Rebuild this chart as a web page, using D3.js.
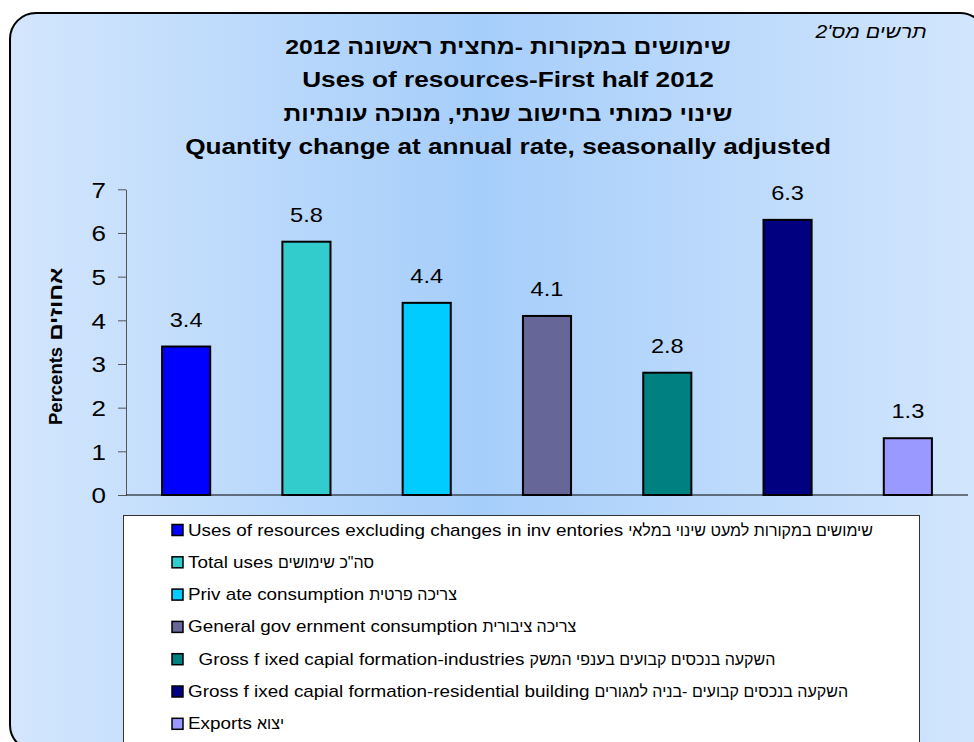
<!DOCTYPE html>
<html>
<head>
<meta charset="utf-8">
<script src="https://cdn.jsdelivr.net/npm/d3@7"></script>
<style>
  body { margin: 0; background: #fff; }
  svg text { font-family: "Liberation Sans", Arial, sans-serif; }
</style>
</head>
<body>
<div id="container-chart"></div>
<script>
// data
const labelsEn = [
  "Uses of resources excluding changes in inv entories",
  "Total uses",
  "Priv ate consumption",
  "General gov ernment consumption",
  "  Gross f ixed capial formation-industries",
  "Gross f ixed capial formation-residential building",
  "Exports"
];
const labelsHe = [
  "שימושים במקורות למעט שינוי במלאי",
  "סה\"כ שימושים",
  "צריכה פרטית",
  "צריכה ציבורית",
  "השקעה בנכסים קבועים בענפי המשק",
  "השקעה בנכסים קבועים -בניה למגורים",
  "יצוא"
];
const values = [3.4, 5.8, 4.4, 4.1, 2.8, 6.3, 1.3];
const barColors = ["#0000FF", "#33CCCC", "#00CCFF", "#666699", "#008080", "#000080", "#9999FF"];
const yTicks = [0, 1, 2, 3, 4, 5, 6, 7];
const titleLines = [
  { text: "שימושים במקורות -מחצית ראשונה 2012", dir: "rtl" },
  { text: "Uses of resources-First half 2012", dir: "ltr" },
  { text: "שינוי כמותי בחישוב שנתי, מנוכה עונתיות", dir: "rtl" },
  { text: "Quantity change at annual rate, seasonally adjusted", dir: "ltr" }
];
const chartNo = "תרשים מס'2";
const yTitleEn = "Percents";
const yTitleHe = "אחוזים";

const W = 974, H = 742;
const stretch = 1.18; // latin text in the picture is drawn a bit wide
const margin = { LEFT: 126, RIGHT: 6, TOP: 189.3, BOTTOM: 247 };

const svg = d3.select("#container-chart")
  .append("svg")
  .attr("width", W)
  .attr("height", H);

// background gradient
const grad = svg.append("defs").append("linearGradient")
  .attr("id", "bg")
  .attr("x1", "0%").attr("x2", "100%")
  .attr("y1", "0%").attr("y2", "0%");
grad.append("stop").attr("offset", "0%").attr("stop-color", "#d3e6fd");
grad.append("stop").attr("offset", "48%").attr("stop-color", "#a6cefa");
grad.append("stop").attr("offset", "100%").attr("stop-color", "#d3e6fd");

svg.append("rect")
  .attr("x", 10).attr("y", 13)
  .attr("width", 976).attr("height", 738)
  .attr("rx", 26).attr("ry", 26)
  .attr("fill", "url(#bg)")
  .attr("stroke", "#000")
  .attr("stroke-width", 2);

// scales
const xScale = d3.scaleBand()
  .domain(labelsEn)
  .range([margin.LEFT, W - margin.RIGHT])
  .paddingInner(0.6)
  .paddingOuter(0.3);

const yScale = d3.scaleLinear()
  .domain([0, 7])
  .range([H - margin.BOTTOM, margin.TOP]);

// titles
svg.selectAll(".title")
  .data(titleLines)
  .enter()
  .append("text")
    .attr("class", "title")
    .attr("transform", (d, i) => d.dir === "rtl"
      ? `translate(508, ${54 + i * 33.4}) scale(1.18, 1)`
      : `translate(508, ${54 + i * 33.4}) scale(1.19, 1)`)
    .attr("text-anchor", "middle")
    .attr("direction", d => d.dir)
    .style("font-size", d => d.dir === "rtl" ? "21px" : "22px")
    .style("font-weight", "bold")
    .text(d => d.text);

svg.append("text")
  .attr("transform", `translate(871, 38) scale(${stretch}, 1)`)
  .attr("text-anchor", "middle")
  .attr("direction", "rtl")
  .style("font-size", "18px")
  .style("font-style", "italic")
  .text(chartNo);

// y axis
const yAxisCall = d3.axisLeft(yScale)
  .tickValues(yTicks)
  .tickSize(8)
  .tickSizeOuter(0)
  .tickFormat(d3.format("d"));

const yAxisGroup = svg.append("g")
  .attr("class", "yAxis")
  .attr("transform", `translate(${margin.LEFT}, 0)`)
  .call(yAxisCall);

yAxisGroup.select(".domain").attr("stroke", "#555");
yAxisGroup.selectAll(".tick line").attr("stroke", "#555");
yAxisGroup.selectAll(".tick text")
  .attr("x", null)
  .attr("dy", "0.35em")
  .attr("transform", `translate(-20, 0) scale(${stretch}, 1)`)
  .attr("fill", "#000")
  .style("font-size", "22px")
  .style("font-family", "'Liberation Sans', Arial, sans-serif");

// y title, latin and hebrew parts set apart
const yTitleG = svg.append("g")
  .attr("transform", "translate(62, 425) rotate(-90)");

const yEn = yTitleG.append("text")
  .attr("x", 0).attr("y", 0)
  .style("font-size", "18.5px")
  .style("font-weight", "bold")
  .text(yTitleEn);

const yEnLen = yEn.node().getComputedTextLength();

yTitleG.append("text")
  .attr("transform", `translate(${yEnLen + 6}, 0) scale(1.3, 1)`)
  .style("font-size", "18.5px")
  .style("font-weight", "bold")
  .text(yTitleHe);

// x axis baseline
svg.append("line")
  .attr("x1", margin.LEFT).attr("x2", W - margin.RIGHT)
  .attr("y1", yScale(0)).attr("y2", yScale(0))
  .attr("stroke", "#000")
  .attr("stroke-width", 1);

// bars
svg.selectAll(".bar")
  .data(values)
  .enter()
  .append("rect")
    .attr("class", "bar")
    .attr("x", (d, i) => xScale(labelsEn[i]))
    .attr("y", d => yScale(d))
    .attr("width", xScale.bandwidth())
    .attr("height", d => yScale(0) - yScale(d))
    .attr("fill", (d, i) => barColors[i])
    .attr("stroke", "#000")
    .attr("stroke-width", 2);

// value labels
svg.selectAll(".valLabel")
  .data(values)
  .enter()
  .append("text")
    .attr("class", "valLabel")
    .attr("transform", (d, i) => `translate(${xScale(labelsEn[i]) + xScale.bandwidth() / 2}, ${yScale(d) - 20}) scale(${stretch}, 1)`)
    .attr("text-anchor", "middle")
    .style("font-size", "20px")
    .text(d => d3.format(".1f")(d));

// legend
svg.append("rect")
  .attr("x", 123.5).attr("y", 515.5)
  .attr("width", 796).attr("height", 260)
  .attr("fill", "#fff")
  .attr("stroke", "#333")
  .attr("stroke-width", 1);

const legendY = (i) => 530 + i * 32.3;

svg.selectAll(".dot")
  .data(labelsEn)
  .enter()
  .append("rect")
    .attr("class", "dot")
    .attr("x", 172)
    .attr("y", (d, i) => legendY(i) - 5.5)
    .attr("width", 11)
    .attr("height", 11)
    .attr("fill", (d, i) => barColors[i])
    .attr("stroke", "#000")
    .attr("stroke-width", 1.5);

const enLabels = svg.selectAll(".label")
  .data(labelsEn)
  .enter()
  .append("text")
    .attr("class", "label")
    .attr("transform", (d, i) => `translate(188, ${legendY(i) + 5.5}) scale(${stretch}, 1)`)
    .style("font-size", "16px")
    .style("white-space", "pre")
    .text(d => d);

// hebrew part follows the latin part, drawn without the stretch
const enLens = enLabels.nodes().map(n => n.getComputedTextLength() * stretch);

svg.selectAll(".labelHe")
  .data(labelsHe)
  .enter()
  .append("text")
    .attr("class", "labelHe")
    .attr("x", (d, i) => 188 + enLens[i] + 5)
    .attr("y", (d, i) => legendY(i) + 5.5)
    .style("font-size", "16px")
    .text(d => d);
</script>
</body>
</html>
